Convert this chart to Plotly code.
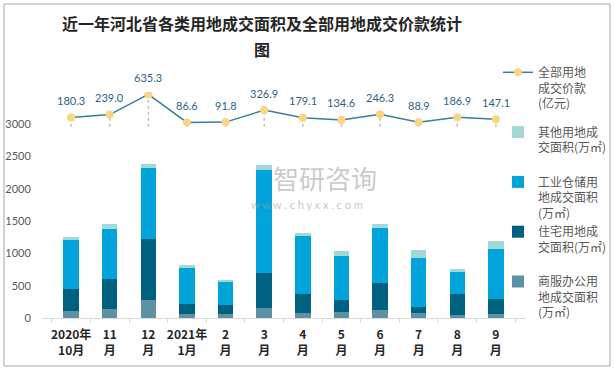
import plotly.graph_objects as go

months = ["2020-10", "2020-11", "2020-12", "2021-01", "2021-02", "2021-03",
          "2021-04", "2021-05", "2021-06", "2021-07", "2021-08", "2021-09"]
tick_labels = ["2020年<br>10月", "11<br>月", "12<br>月", "2021年<br>1月", "2<br>月", "3<br>月",
               "4<br>月", "5<br>月", "6<br>月", "7<br>月", "8<br>月", "9<br>月"]

commercial = [103, 134, 273, 57, 57, 149, 72, 88, 119, 72, 41, 57]
residential = [340, 464, 944, 154, 139, 542, 294, 185, 417, 93, 325, 232]
industrial = [774, 773, 1113, 573, 371, 1608, 897, 681, 851, 758, 340, 773]
other = [30, 78, 62, 30, 15, 67, 46, 77, 62, 123, 47, 124]
price = [180.3, 239.0, 635.3, 86.6, 91.8, 326.9, 179.1, 134.6, 246.3, 88.9, 186.9, 147.1]

y_ticks = [0, 500, 1000, 1500, 2000, 2500, 3000]

C_COMM = "#5E90A6"
C_RES = "#00607F"
C_IND = "#00A3DA"
C_OTH = "#A2D9D6"
C_LINE = "#3A7D97"
C_MARK = "#F8D57E"

FONT = "Lato, 'Noto Sans CJK SC', sans-serif"
CJK = "'Noto Sans CJK SC', sans-serif"

fig = go.Figure()

fig.add_trace(go.Bar(x=months, y=commercial, name="商服办公用<br>地成交面积<br>(万㎡)",
                     marker=dict(color=C_COMM, line=dict(width=0)),
                     legendgroup="area", legendrank=5))
fig.add_trace(go.Bar(x=months, y=residential, name="住宅用地成<br>交面积(万㎡)<br> ",
                     marker=dict(color=C_RES, line=dict(width=0)),
                     legendgroup="area", legendrank=4))
fig.add_trace(go.Bar(x=months, y=industrial, name="工业仓储用<br>地成交面积<br>(万㎡)",
                     marker=dict(color=C_IND, line=dict(width=0)),
                     legendgroup="area", legendrank=3))
fig.add_trace(go.Bar(x=months, y=other, name="其他用地成<br>交面积(万㎡)<br> ",
                     marker=dict(color=C_OTH, line=dict(width=0)),
                     legendgroup="area", legendrank=2))
fig.add_trace(go.Scatter(x=months, y=price, yaxis="y2", mode="lines+markers",
                         name="全部用地<br>成交价款<br>(亿元)",
                         line=dict(color=C_LINE, width=1.5),
                         marker=dict(color=C_MARK, size=8, line=dict(width=0)),
                         legendgroup="price", legendrank=1))

# drop lines from points to the secondary-axis zero
for m, v in zip(months, price):
    fig.add_shape(type="line", xref="x", yref="y2", x0=m, x1=m, y0=0, y1=v,
                  line=dict(color="#BFBFBF", width=1.5, dash="dot"), layer="below")

# value labels
for m, v in zip(months, price):
    fig.add_annotation(x=m, y=v, xref="x", yref="y2", text=f"{v:.1f}",
                       showarrow=False, yshift=17,
                       font=dict(family=FONT, size=11, color="#2E6385"))

# title
fig.add_annotation(xref="paper", yref="paper", x=(262 - 42) / 483, y=(318 - 23) / 226,
                   text="近一年河北省各类用地成交面积及全部用地成交价款统计", showarrow=False,
                   xanchor="center", yanchor="middle",
                   font=dict(family=CJK, size=16, color="#262626", weight="bold"))
fig.add_annotation(xref="paper", yref="paper", x=(262 - 42) / 483, y=(318 - 49) / 226,
                   text="图", showarrow=False, xanchor="center", yanchor="middle",
                   font=dict(family=CJK, size=16, color="#262626", weight="bold"))

# watermark
fig.add_annotation(xref="paper", yref="paper", x=(325 - 42) / 483, y=(318 - 177) / 226,
                   text="智研咨询", showarrow=False, xanchor="center", yanchor="middle",
                   font=dict(family=CJK, size=26, color="rgba(150,150,150,0.5)"))
fig.add_annotation(xref="paper", yref="paper", x=(307 - 42) / 483, y=(318 - 204) / 226,
                   text="w w w . c h y x x . c o m", showarrow=False, xanchor="center",
                   yanchor="middle",
                   font=dict(family=FONT, size=11, color="rgba(160,160,160,0.6)"))

# outer frame
fig.add_shape(type="rect", xref="paper", yref="paper",
              x0=(4 - 42) / 483, x1=(610 - 42) / 483,
              y0=(318 - 366) / 226, y1=(318 - 4) / 226,
              line=dict(color="#A6A6A6", width=1), fillcolor="rgba(0,0,0,0)")

fig.update_layout(
    width=614, height=371,
    margin=dict(l=42, r=89, t=92, b=53, autoexpand=False),
    paper_bgcolor="white", plot_bgcolor="white",
    barmode="stack", bargap=0.6,
    showlegend=True,
    legend=dict(x=(498 - 42) / 483, xanchor="left", y=(318 - 58) / 226, yanchor="top",
                traceorder="grouped", valign="top", bgcolor="rgba(0,0,0,0)",
                font=dict(family=CJK, size=12, color="#595959"),
                itemwidth=30, tracegroupgap=10, maxheight=360),
    xaxis=dict(type="category", tickvals=months, ticktext=tick_labels, tickangle=0,
               tickson="boundaries", ticks="outside", ticklen=4, tickcolor="#D9D9D9",
               showline=True, linecolor="#D9D9D9", linewidth=1, ticklabelstandoff=6,
               showgrid=False, zeroline=False, automargin=False,
               tickfont=dict(family=CJK, size=12, color="#262626", weight="bold")),
    yaxis=dict(range=[0, 3500], tickvals=y_ticks, showgrid=False, zeroline=False,
               showline=False, ticks="outside", ticklen=8, tickcolor="rgba(0,0,0,0)",
               automargin=False,
               tickfont=dict(family=FONT, size=11, color="#595959")),
    yaxis2=dict(overlaying="y", side="right", range=[-3747, 682], visible=False,
                showgrid=False, zeroline=False),
)

fig.write_html("out.html",
               config={"displayModeBar": False},
               post_script="document.body.style.margin='0';document.body.style.padding='0';")
